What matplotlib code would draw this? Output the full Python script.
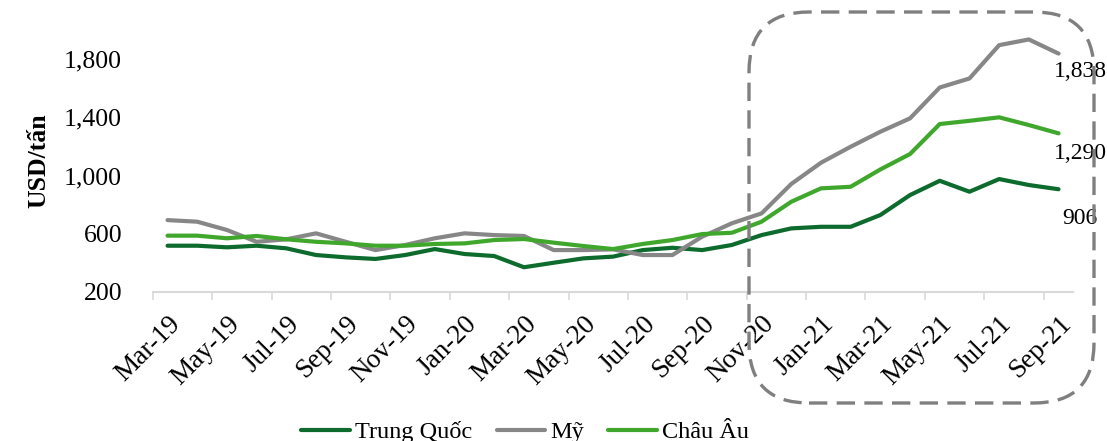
import matplotlib
matplotlib.use("Agg")
import matplotlib.pyplot as plt
from matplotlib.patches import FancyBboxPatch
from matplotlib.ticker import FuncFormatter

months = ["Mar-19", "Apr-19", "May-19", "Jun-19", "Jul-19", "Aug-19", "Sep-19",
          "Oct-19", "Nov-19", "Dec-19", "Jan-20", "Feb-20", "Mar-20", "Apr-20",
          "May-20", "Jun-20", "Jul-20", "Aug-20", "Sep-20", "Oct-20", "Nov-20",
          "Dec-20", "Jan-21", "Feb-21", "Mar-21", "Apr-21", "May-21", "Jun-21",
          "Jul-21", "Aug-21", "Sep-21"]

trung_quoc = [518, 518, 507, 518, 500, 454, 438, 427, 454, 495, 461, 447, 370,
              401, 431, 443, 488, 504, 488, 523, 591, 637, 648, 648, 729, 866,
              964, 889, 976, 935, 906]
my = [694, 683, 626, 545, 562, 603, 545, 488, 523, 569, 603, 591, 585, 488,
      488, 493, 454, 454, 580, 672, 740, 942, 1088, 1198, 1301, 1393, 1605,
      1667, 1896, 1935, 1838]
chau_au = [587, 587, 569, 585, 562, 545, 534, 518, 518, 530, 534, 557, 564,
           539, 516, 495, 530, 557, 598, 607, 683, 820, 912, 923, 1042, 1148,
           1354, 1376, 1400, 1347, 1290]

series_names = ["Trung Quốc", "Mỹ", "Châu Âu"]
colors = ["#0E6B2E", "#878787", "#3FA82C"]
y_ticks = [200, 600, 1000, 1400, 1800]

W, H = 1107, 441
fig = plt.figure(figsize=(W / 100, H / 100), dpi=100)
plt.rcParams["font.family"] = ["Liberation Serif", "DejaVu Serif"]

ax = fig.add_axes([152.7 / W, (H - 292) / H, (1073.4 - 152.7) / W, (292 - 30) / H])

x = list(range(len(months)))
lines = []
for vals, name, c in zip([trung_quoc, my, chau_au], series_names, colors):
    ln, = ax.plot(x, vals, color=c, lw=3.0, solid_capstyle="round",
                  solid_joinstyle="round", label=name)
    lines.append(ln)

ax.set_xlim(-0.5, len(months) - 0.5)
ax.set_ylim(200, 2000)
ax.set_yticks(y_ticks)
ax.yaxis.set_major_formatter(FuncFormatter(lambda v, p: f"{int(v):,}"))
ax.tick_params(axis="y", length=0, pad=22, labelsize=18.5)

ax.set_xticks(x[::2])
ax.set_xticklabels(months[::2], rotation=45, ha="right", va="top",
                   rotation_mode="anchor", fontsize=19.5)
ax.set_xticks([i - 0.5 for i in range(0, len(months) + 1, 2)], minor=True)
ax.tick_params(axis="x", which="major", length=0, pad=14)
ax.tick_params(axis="x", which="minor", length=5.5, width=1.2, color="#d9d9d9")

for s in ["top", "right", "left"]:
    ax.spines[s].set_visible(False)
ax.spines["bottom"].set_color("#d9d9d9")
ax.spines["bottom"].set_linewidth(1.5)

ax.set_ylabel("USD/tấn", fontsize=18.5, fontweight="bold", labelpad=10)

# end-of-series value labels
offsets = [-21, -13, -14.5]
for vals, dy in zip([trung_quoc, my, chau_au], offsets):
    ax.annotate(f"{vals[-1]:,}", xy=(x[-1], vals[-1]), xytext=(15.5, dy),
                textcoords="offset points", ha="center", va="center",
                fontsize=17, annotation_clip=False)

# highlight box around the recent period
box = FancyBboxPatch((7.49, (H - 403) / 100), 10.94 - 7.49, (403 - 12) / 100,
                     boxstyle="round,pad=0,rounding_size=0.6",
                     transform=fig.dpi_scale_trans, fill=False,
                     edgecolor="#7f7f7f", lw=2.4, linestyle=(0, (5.5, 2.8)),
                     clip_on=False)
fig.patches.append(box)

fig.legend(handles=lines, loc="center", bbox_to_anchor=(525 / W, (H - 432) / H),
           ncol=3, frameon=False, fontsize=17.5, handlelength=2.0,
           handletextpad=0.2, columnspacing=1.0)

fig.savefig("out.png", dpi=100)
